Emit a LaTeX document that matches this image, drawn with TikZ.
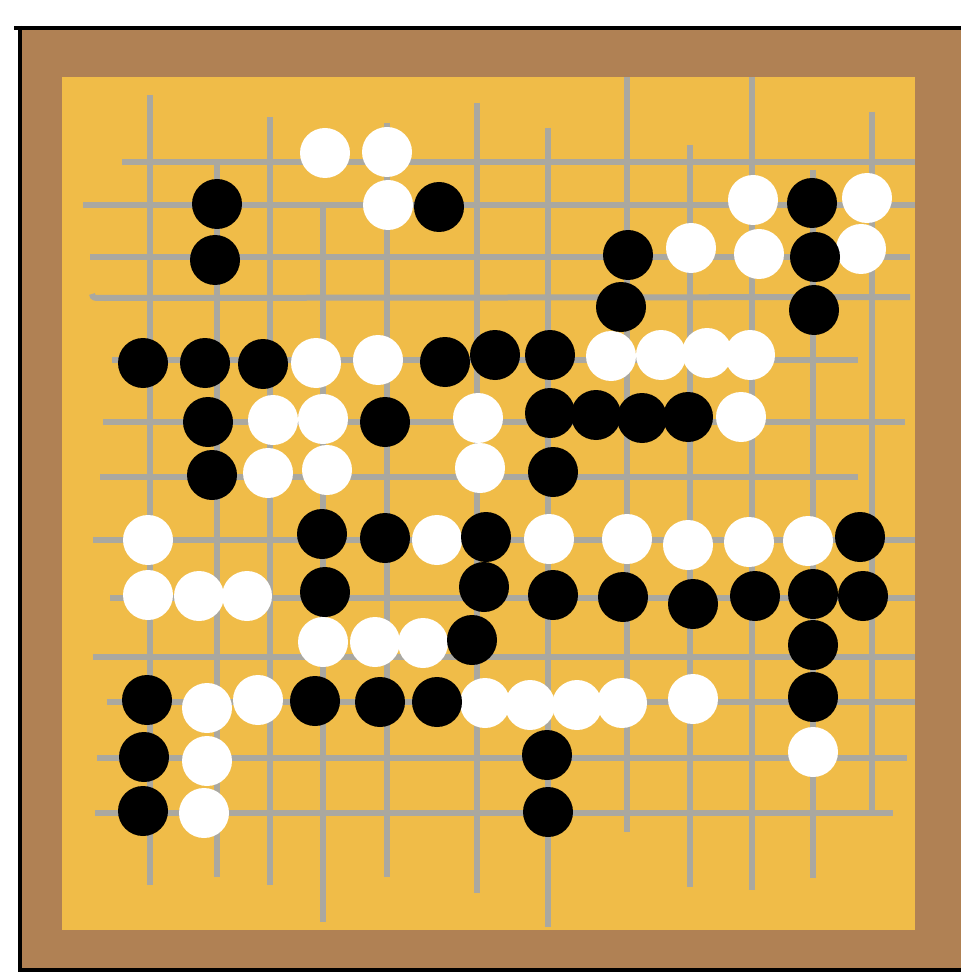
\documentclass[tikz,border=0pt]{standalone}
\definecolor{frame}{RGB}{176,129,84}
\definecolor{board}{RGB}{240,188,72}
\definecolor{gridc}{RGB}{170,168,160}
\tikzset{
  bstone/.style={circle,fill=black,minimum size=50pt,inner sep=0pt},
  wstone/.style={circle,fill=white,minimum size=50pt,inner sep=0pt},
  gline/.style={draw=gridc,line width=6pt},
}
\begin{document}
\begin{tikzpicture}[x=1pt,y=-1pt]
\useasboundingbox (0,0) rectangle (961,973);
\fill[white] (0,0) rectangle (961,973);
% frame
\fill[frame] (22,30) rectangle (961,969);
\fill[board] (62,77) rectangle (915,930);
\draw[black,line width=4pt] (14,28) -- (961,28);
\draw[black,line width=4pt] (20,26) -- (20,971);
\draw[black,line width=4pt] (18,970) -- (961,970);
% horizontal grid lines
\foreach \y/\a/\b in {162/122/915, 205/83/915, 257/90/910, 360/112/858, 422/103/905, 477/100/858,
  540/93/915, 598/110/915, 657/93/915, 702/107/915, 758/97/907, 813/95/893}
  \draw[gline] (\a,\y) -- (\b,\y);
\draw[gline] (92,294) .. controls (93,298) .. (105,298) -- (910,297);
% vertical grid lines
\foreach \x/\a/\b in {150/95/885, 217/163/877, 270/117/885, 323/207/922, 387/123/877, 477/103/893,
  548/128/927, 627/77/832, 690/145/887, 752/77/890, 813/170/878, 872/112/810}
  \draw[gline] (\x,\a) -- (\x,\b);
% white stones
\foreach \n/\x/\y in {w1/325/153, w2/387/152, w3/388/205, w4/753/200, w5/867/198,
  w6/691/248, w7/759/254, w8/861/249,
  w9/316/363, w10/378/360, w11/611/356, w12/661/355, w13/707/353, w14/750/355,
  w15/273/420, w16/323/419, w17/478/418, w18/741/417,
  w19/268/473, w20/327/470, w21/480/468,
  w22/148/540, w23/437/540, w24/549/539, w25/627/539, w26/688/545, w27/749/542, w28/808/541,
  w29/148/595, w30/199/596, w31/247/596,
  w32/323/642, w33/375/642, w34/423/643,
  w35/207/708, w36/258/700, w37/485/703, w38/530/705, w39/577/705, w40/622/703, w41/693/699,
  w42/207/761, w43/813/752, w44/204/813}
  \node[wstone] (\n) at (\x,\y) {};
% black stones
\foreach \n/\x/\y in {b1/217/204, b2/439/207, b3/812/203,
  b4/215/260, b5/628/255, b6/815/257,
  b7/621/307, b8/814/310,
  b9/143/363, b10/205/363, b11/263/364, b12/445/362, b13/495/355, b14/550/355,
  b15/208/422, b16/385/422, b17/550/413, b18/596/415, b19/642/418, b20/688/417,
  b21/212/475, b22/553/472,
  b23/322/534, b24/385/538, b25/486/537, b26/860/537,
  b27/325/592, b28/484/587, b29/553/595, b30/623/597, b31/693/604, b32/755/596, b33/813/594, b34/863/596,
  b35/472/640, b36/813/645,
  b37/147/700, b38/315/701, b39/380/702, b40/437/702, b41/813/697,
  b42/144/757, b43/547/755,
  b44/143/811, b45/548/812}
  \node[bstone] (\n) at (\x,\y) {};
\end{tikzpicture}
\end{document}
